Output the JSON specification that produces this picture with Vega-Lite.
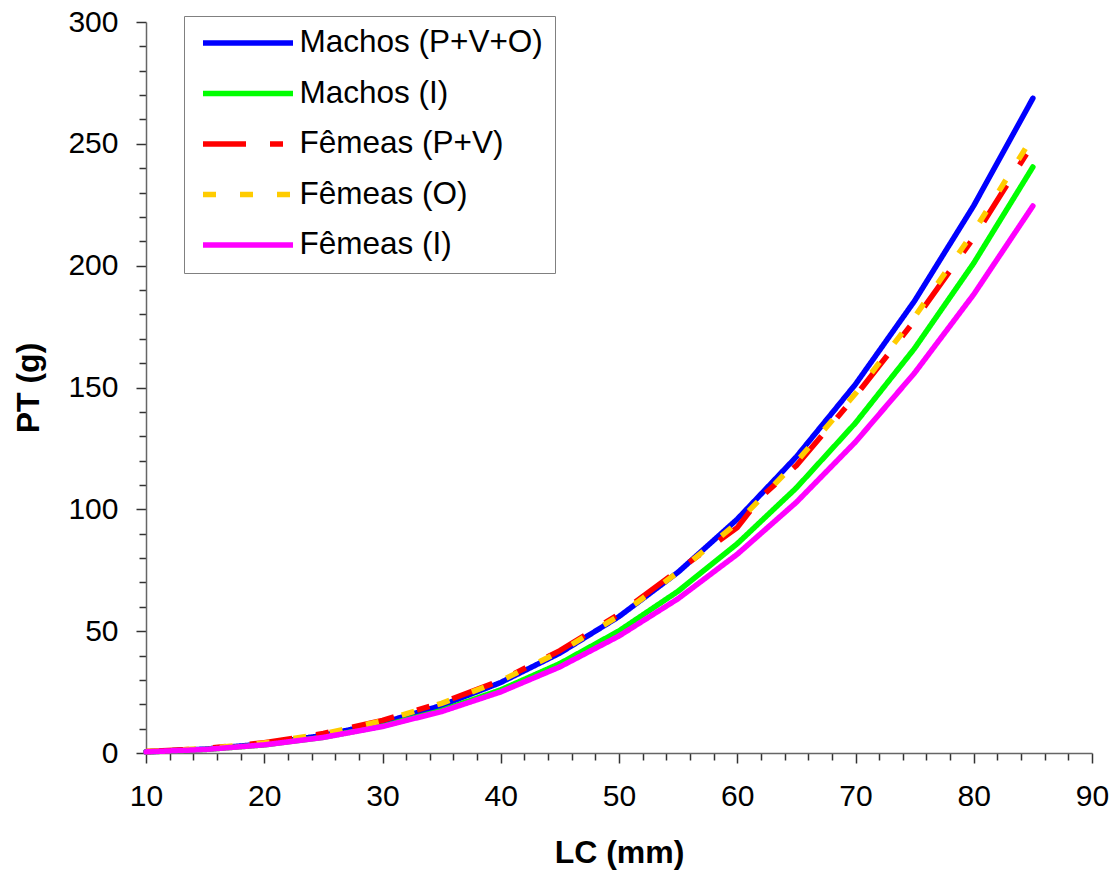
{
  "$schema": "https://vega.github.io/schema/vega-lite/v6.json",
  "width": 946,
  "height": 731,
  "autosize": {"type": "none"},
  "padding": {"left": 146, "top": 22, "right": 24, "bottom": 125},
  "background": "white",
  "config": {
    "view": {"stroke": null},
    "font": "Liberation Sans",
    "legend": {
      "symbolType": "stroke",
      "symbolSize": 8100,
      "symbolStrokeWidth": 5.5,
      "clipHeight": 30,
      "rowPadding": 18.5,
      "padding": 12,
      "symbolOffset": 4,
      "labelOffset": 3.5,
      "labelFont": "Liberation Sans",
      "labelFontSize": 31.5,
      "labelColor": "black",
      "labelLimit": 500,
      "strokeColor": "#808080",
      "fillColor": "white"
    }
  },
  "data": {
    "values": [
      {"s": "Machos (P+V+O)", "LC": 10, "PT": 0.48},
      {"s": "Machos (P+V+O)", "LC": 15, "PT": 1.59},
      {"s": "Machos (P+V+O)", "LC": 20, "PT": 3.73},
      {"s": "Machos (P+V+O)", "LC": 25, "PT": 7.21},
      {"s": "Machos (P+V+O)", "LC": 30, "PT": 12.37},
      {"s": "Machos (P+V+O)", "LC": 35, "PT": 19.51},
      {"s": "Machos (P+V+O)", "LC": 40, "PT": 28.94},
      {"s": "Machos (P+V+O)", "LC": 45, "PT": 41.0},
      {"s": "Machos (P+V+O)", "LC": 50, "PT": 55.99},
      {"s": "Machos (P+V+O)", "LC": 55, "PT": 74.21},
      {"s": "Machos (P+V+O)", "LC": 60, "PT": 95.96},
      {"s": "Machos (P+V+O)", "LC": 65, "PT": 121.57},
      {"s": "Machos (P+V+O)", "LC": 70, "PT": 151.34},
      {"s": "Machos (P+V+O)", "LC": 75, "PT": 185.57},
      {"s": "Machos (P+V+O)", "LC": 80, "PT": 224.64},
      {"s": "Machos (P+V+O)", "LC": 85, "PT": 268.7},
      {"s": "Machos (I)", "LC": 10, "PT": 0.43},
      {"s": "Machos (I)", "LC": 15, "PT": 1.43},
      {"s": "Machos (I)", "LC": 20, "PT": 3.34},
      {"s": "Machos (I)", "LC": 25, "PT": 6.46},
      {"s": "Machos (I)", "LC": 30, "PT": 11.07},
      {"s": "Machos (I)", "LC": 35, "PT": 17.46},
      {"s": "Machos (I)", "LC": 40, "PT": 25.91},
      {"s": "Machos (I)", "LC": 45, "PT": 36.7},
      {"s": "Machos (I)", "LC": 50, "PT": 50.11},
      {"s": "Machos (I)", "LC": 55, "PT": 66.42},
      {"s": "Machos (I)", "LC": 60, "PT": 85.89},
      {"s": "Machos (I)", "LC": 65, "PT": 108.81},
      {"s": "Machos (I)", "LC": 70, "PT": 135.45},
      {"s": "Machos (I)", "LC": 75, "PT": 166.1},
      {"s": "Machos (I)", "LC": 80, "PT": 201.06},
      {"s": "Machos (I)", "LC": 85, "PT": 240.5},
      {"s": "Fêmeas (P+V)", "LC": 10, "PT": 0.6},
      {"s": "Fêmeas (P+V)", "LC": 15, "PT": 1.8},
      {"s": "Fêmeas (P+V)", "LC": 20, "PT": 4.2},
      {"s": "Fêmeas (P+V)", "LC": 25, "PT": 8.0},
      {"s": "Fêmeas (P+V)", "LC": 30, "PT": 13.4},
      {"s": "Fêmeas (P+V)", "LC": 35, "PT": 20.6},
      {"s": "Fêmeas (P+V)", "LC": 40, "PT": 29.8},
      {"s": "Fêmeas (P+V)", "LC": 45, "PT": 42.0},
      {"s": "Fêmeas (P+V)", "LC": 50, "PT": 57.0},
      {"s": "Fêmeas (P+V)", "LC": 55, "PT": 75.0},
      {"s": "Fêmeas (P+V)", "LC": 60, "PT": 92.5},
      {"s": "Fêmeas (P+V)", "LC": 62, "PT": 105.0},
      {"s": "Fêmeas (P+V)", "LC": 65, "PT": 118.0},
      {"s": "Fêmeas (P+V)", "LC": 70, "PT": 146.5},
      {"s": "Fêmeas (P+V)", "LC": 75, "PT": 177.5},
      {"s": "Fêmeas (P+V)", "LC": 80, "PT": 211.5},
      {"s": "Fêmeas (P+V)", "LC": 85, "PT": 250.0},
      {"s": "Fêmeas (O)", "LC": 10, "PT": 0.6},
      {"s": "Fêmeas (O)", "LC": 15, "PT": 1.8},
      {"s": "Fêmeas (O)", "LC": 20, "PT": 4.1},
      {"s": "Fêmeas (O)", "LC": 25, "PT": 7.9},
      {"s": "Fêmeas (O)", "LC": 30, "PT": 13.2},
      {"s": "Fêmeas (O)", "LC": 35, "PT": 20.4},
      {"s": "Fêmeas (O)", "LC": 40, "PT": 29.6},
      {"s": "Fêmeas (O)", "LC": 45, "PT": 41.6},
      {"s": "Fêmeas (O)", "LC": 50, "PT": 56.3},
      {"s": "Fêmeas (O)", "LC": 55, "PT": 74.2},
      {"s": "Fêmeas (O)", "LC": 60, "PT": 94.5},
      {"s": "Fêmeas (O)", "LC": 65, "PT": 119.5},
      {"s": "Fêmeas (O)", "LC": 70, "PT": 147.5},
      {"s": "Fêmeas (O)", "LC": 75, "PT": 179.0},
      {"s": "Fêmeas (O)", "LC": 80, "PT": 214.0},
      {"s": "Fêmeas (O)", "LC": 85, "PT": 253.0},
      {"s": "Fêmeas (I)", "LC": 10, "PT": 0.45},
      {"s": "Fêmeas (I)", "LC": 15, "PT": 1.45},
      {"s": "Fêmeas (I)", "LC": 20, "PT": 3.35},
      {"s": "Fêmeas (I)", "LC": 25, "PT": 6.4},
      {"s": "Fêmeas (I)", "LC": 30, "PT": 10.87},
      {"s": "Fêmeas (I)", "LC": 35, "PT": 17.02},
      {"s": "Fêmeas (I)", "LC": 40, "PT": 25.09},
      {"s": "Fêmeas (I)", "LC": 45, "PT": 35.34},
      {"s": "Fêmeas (I)", "LC": 50, "PT": 48.01},
      {"s": "Fêmeas (I)", "LC": 55, "PT": 63.34},
      {"s": "Fêmeas (I)", "LC": 60, "PT": 81.57},
      {"s": "Fêmeas (I)", "LC": 65, "PT": 102.91},
      {"s": "Fêmeas (I)", "LC": 70, "PT": 127.66},
      {"s": "Fêmeas (I)", "LC": 75, "PT": 156.0},
      {"s": "Fêmeas (I)", "LC": 80, "PT": 188.23},
      {"s": "Fêmeas (I)", "LC": 85, "PT": 224.5}
    ]
  },
  "encoding": {
    "x": {
      "field": "LC",
      "type": "quantitative",
      "scale": {"domain": [10, 90], "nice": false, "zero": false},
      "axis": {
        "title": "LC (mm)",
        "titleFont": "Liberation Sans",
        "titleFontSize": 32,
        "titleFontWeight": "bold",
        "titleColor": "black",
        "titlePadding": 26,
        "values": [10, 12, 14, 16, 18, 20, 22, 24, 26, 28, 30, 32, 34, 36, 38, 40, 42, 44, 46, 48, 50, 52, 54, 56, 58, 60, 62, 64, 66, 68, 70, 72, 74, 76, 78, 80, 82, 84, 86, 88, 90],
        "labelExpr": "datum.value % 10 === 0 ? datum.label : ''",
        "labelOverlap": false,
        "labelFont": "Liberation Sans",
        "labelFontSize": 30,
        "labelColor": "black",
        "labelPadding": 18,
        "labelFlush": false,
        "grid": false,
        "domainColor": "#666666",
        "domainWidth": 1.5,
        "tickColor": "#333333",
        "tickWidth": 1.5,
        "tickSize": {"condition": {"test": "datum.value % 10 === 0", "value": 10}, "value": 7}
      }
    },
    "y": {
      "field": "PT",
      "type": "quantitative",
      "scale": {"domain": [0, 300], "nice": false},
      "axis": {
        "title": "PT (g)",
        "titleFont": "Liberation Sans",
        "titleFontSize": 32,
        "titleFontWeight": "bold",
        "titleColor": "black",
        "titlePadding": 22,
        "values": [0, 10, 20, 30, 40, 50, 60, 70, 80, 90, 100, 110, 120, 130, 140, 150, 160, 170, 180, 190, 200, 210, 220, 230, 240, 250, 260, 270, 280, 290, 300],
        "labelExpr": "datum.value % 50 === 0 ? datum.label : ''",
        "labelOverlap": false,
        "labelFont": "Liberation Sans",
        "labelFontSize": 30,
        "labelColor": "black",
        "labelPadding": 18,
        "labelFlush": false,
        "grid": false,
        "domainColor": "#666666",
        "domainWidth": 1.5,
        "tickColor": "#333333",
        "tickWidth": 1.5,
        "tickSize": {"condition": {"test": "datum.value % 50 === 0", "value": 10}, "value": 7}
      }
    },
    "color": {
      "field": "s",
      "type": "nominal",
      "scale": {
        "domain": ["Machos (P+V+O)", "Machos (I)", "Fêmeas (P+V)", "Fêmeas (O)", "Fêmeas (I)"],
        "range": ["#0000FF", "#00FF00", "#FF0000", "#FFCC00", "#FF00FF"]
      },
      "legend": {"title": null, "orient": "none", "legendX": 38, "legendY": -6}
    },
    "strokeDash": {
      "field": "s",
      "type": "nominal",
      "scale": {
        "domain": ["Machos (P+V+O)", "Machos (I)", "Fêmeas (P+V)", "Fêmeas (O)", "Fêmeas (I)"],
        "range": [[1, 0], [1, 0], [43, 24, 13, 24], [13, 24], [1, 0]]
      },
      "legend": {"title": null, "orient": "none", "legendX": 38, "legendY": -6}
    }
  },
  "layer": [
    {
      "transform": [{"filter": "datum.s === 'Machos (P+V+O)' || datum.s === 'Machos (I)'"}],
      "mark": {"type": "line", "strokeWidth": 5.5, "strokeCap": "round", "strokeJoin": "round"}
    },
    {
      "transform": [{"filter": "datum.s === 'Fêmeas (P+V)' || datum.s === 'Fêmeas (O)'"}],
      "mark": {"type": "line", "strokeWidth": 5.5, "strokeCap": "butt", "strokeJoin": "miter"}
    },
    {
      "transform": [{"filter": "datum.s === 'Fêmeas (I)'"}],
      "mark": {"type": "line", "strokeWidth": 5.5, "strokeCap": "round", "strokeJoin": "round"}
    }
  ]
}
